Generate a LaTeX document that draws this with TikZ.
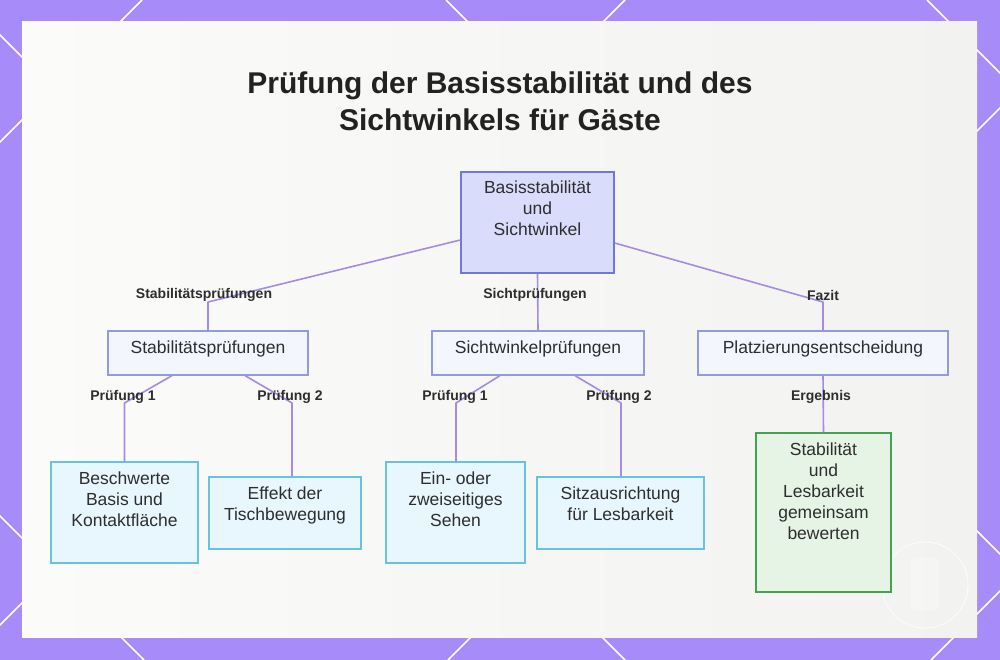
\documentclass[tikz,border=0pt]{standalone}
\usepackage{fontspec}
\setmainfont{Liberation Sans}
\definecolor{bgP}{HTML}{A78BF8}
\definecolor{cardL}{HTML}{FBFBFA}
\definecolor{cardR}{HTML}{F2F2F0}
\definecolor{lineC}{HTML}{A58AE6}
\definecolor{txtC}{HTML}{2E2E2E}
\definecolor{titleC}{HTML}{222222}
\definecolor{rootF}{HTML}{D9DCFB}
\definecolor{rootB}{HTML}{6F78D6}
\definecolor{midF}{HTML}{F4F6FE}
\definecolor{midB}{HTML}{909BE4}
\definecolor{leafF}{HTML}{E8F6FD}
\definecolor{leafB}{HTML}{66C4E0}
\definecolor{resF}{HTML}{E5F4E5}
\definecolor{resB}{HTML}{42A44E}
\newcommand\bxt[3]{\begin{minipage}[c][#2][t]{#1}\centering\fontsize{17.5}{21}\selectfont\color{txtC}\rule{0pt}{22pt}#3\end{minipage}}
\begin{document}
\begin{tikzpicture}[x=1pt,y=-1pt,
  conn/.style={draw=lineC, line width=1.6pt, line join=round},
  elab/.style={font=\fontsize{14}{16}\selectfont\bfseries, text=txtC, inner sep=0},
  rootbox/.style={draw=rootB, fill=rootF, line width=1.3pt, inner sep=0},
  midbox/.style={draw=midB, fill=midF, line width=1.2pt, inner sep=0},
  leafbox/.style={draw=leafB, fill=leafF, line width=1.3pt, inner sep=0},
  resbox/.style={draw=resB, fill=resF, line width=1.3pt, inner sep=0},
  latt/.style={draw=white, line width=1.6pt}]
\useasboundingbox (0,0) rectangle (1000,660);
\fill[bgP] (0,0) rectangle (1000,660);
\begin{scope}
\clip (0,0) rectangle (1000,660);
\foreach \c in {-516,-35,446,927} \draw[latt] (\c,0) -- ++(660,660);
\foreach \d in {142,625,1108,1591} \draw[latt] (\d,0) -- ++(-660,660);
\end{scope}
\shade[left color=cardL, right color=cardR] (22,22) rectangle (977,637);
% watermark
\draw[white, line width=0.8pt, opacity=0.8] (925,585) circle[radius=43pt];
\fill[white, opacity=0.3, rounded corners=3pt] (911,558) rectangle (939,610);
% title
\node[align=center, text=titleC, font=\fontsize{30}{37}\selectfont\bfseries, inner sep=0] (ttl) at (500,101) {Prüfung der Basisstabilität und des\\Sichtwinkels für Gäste};
% nodes
\node[rootbox] (r) at (537.5,222.5) {\bxt{153pt}{101pt}{Basisstabilität\\und\\Sichtwinkel}};
\node[midbox] (s1) at (208,353) {\bxt{200pt}{44pt}{Stabilitätsprüfungen}};
\node[midbox] (s2) at (538,353) {\bxt{212pt}{44pt}{Sichtwinkelprüfungen}};
\node[midbox] (s3) at (823,353) {\bxt{250pt}{44pt}{Platzierungsentscheidung}};
\node[leafbox] (l1) at (124.5,512.5) {\bxt{147pt}{101pt}{Beschwerte\\Basis und\\Kontaktfläche}};
\node[leafbox] (l2) at (285,513) {\bxt{152pt}{72pt}{Effekt der\\Tischbewegung}};
\node[leafbox] (l3) at (455.5,512.5) {\bxt{139pt}{101pt}{Ein- oder\\zweiseitiges\\Sehen}};
\node[leafbox] (l4) at (620.5,513) {\bxt{167pt}{72pt}{Sitzausrichtung\\für Lesbarkeit}};
\node[resbox] (l5) at (823.5,512.5) {\bxt{135pt}{159pt}{Stabilität\\und\\Lesbarkeit\\gemeinsam\\bewerten}};
% bend points
\coordinate (k1) at (208,302);
\coordinate (k2) at (823,302);
\coordinate (k3) at (124.5,403);
\coordinate (k4) at (292,403);
\coordinate (k5) at (456,403);
\coordinate (k6) at (621,403);
% connectors
\draw[conn] ([yshift=-17.5pt]r.west) -- (k1) -- (s1.north);
\draw[conn] (r.south) -- (s2.north);
\draw[conn] ([yshift=-20.5pt]r.east) -- (k2) -- (s3.north);
\draw[conn] ([xshift=-36pt]s1.south) -- (k3) -- (l1.north);
\draw[conn] ([xshift=37pt]s1.south) -- (k4) -- (k4 |- l2.north);
\draw[conn] ([xshift=-38pt]s2.south) -- (k5) -- (k5 |- l3.north);
\draw[conn] ([xshift=37pt]s2.south) -- (k6) -- (k6 |- l4.north);
\draw[conn] (s3.south) -- (l5.north);
% edge labels
\node[elab] (e1) at (204,295) {Stabilitätsprüfungen};
\node[elab] (e2) at (535,295) {Sichtprüfungen};
\node[elab] (e3) at (823,295) {Fazit};
\node[elab] (e4) at (123,397) {Prüfung 1};
\node[elab] (e5) at (290,397) {Prüfung 2};
\node[elab] (e6) at (455,397) {Prüfung 1};
\node[elab] (e7) at (619,397) {Prüfung 2};
\node[elab] (e8) at (821,397) {Ergebnis};
\end{tikzpicture}
\end{document}
